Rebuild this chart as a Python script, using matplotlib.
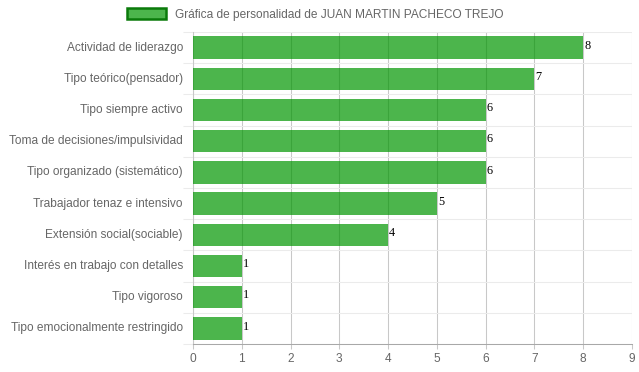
import matplotlib
matplotlib.use("Agg")
import matplotlib.pyplot as plt
import matplotlib.transforms as mtransforms
from matplotlib.patches import Patch

categories = [
    "Actividad de liderazgo",
    "Tipo teórico(pensador)",
    "Tipo siempre activo",
    "Toma de decisiones/impulsividad",
    "Tipo organizado (sistemático)",
    "Trabajador tenaz e intensivo",
    "Extensión social(sociable)",
    "Interés en trabajo con detalles",
    "Tipo vigoroso",
    "Tipo emocionalmente restringido",
]
values = [8, 7, 6, 6, 6, 5, 4, 1, 1, 1]
x_ticks = list(range(0, 10))
legend_label = "Gráfica de personalidad de JUAN MARTIN PACHECO TREJO"

plt.rcParams['font.family'] = ['Liberation Sans', 'DejaVu Sans']

W, H = 639, 372
fig = plt.figure(figsize=(W / 100, H / 100), dpi=100)
ax = fig.add_axes([193 / W, (H - 344) / H, (632 - 193) / W, (344 - 32) / H])

bar_color = (0.0, 150 / 255, 0.0, 0.70)
pos = list(range(len(categories)))
ax.barh(pos, values, height=0.72, color=bar_color, zorder=3, linewidth=0)

for p, v in zip(pos, values):
    ax.text(v + 0.02, p - 0.06, str(v), family='Liberation Serif', fontsize=8.8,
            color='black', va='center', ha='left', zorder=4)

ax.set_xlim(0, 9)
ax.set_ylim(len(categories) - 0.5, -0.5)
ax.set_xticks(x_ticks)
ax.set_yticks(pos)
ax.set_yticklabels(categories)
ax.set_yticks([k - 0.5 for k in range(len(categories) + 1)], minor=True)

ax.tick_params(axis='y', which='major', length=0, pad=7.2, labelsize=8.6, labelcolor='#666666')
offset = mtransforms.ScaledTranslation(0, 1.5 / 100, fig.dpi_scale_trans)
for lab in ax.get_yticklabels():
    lab.set_transform(lab.get_transform() + offset)
ax.tick_params(axis='y', which='minor', length=7.2, width=0.75, color='#ebebeb', direction='out')
ax.tick_params(axis='x', which='major', length=3.5, width=0.75, color='#c8c8c8', pad=3,
               labelsize=8.6, labelcolor='#666666')

ax.grid(axis='x', which='major', color='#c8c8c8', linewidth=0.75, zorder=1)
ax.grid(axis='y', which='minor', color='#ebebeb', linewidth=0.75, zorder=1)
ax.grid(axis='y', which='major', visible=False)

for s in ['top', 'right']:
    ax.spines[s].set_visible(False)
ax.spines['left'].set_color('#c8c8c8')
ax.spines['left'].set_linewidth(0.75)
ax.spines['bottom'].set_color('#a8a8a8')
ax.spines['bottom'].set_linewidth(0.75)

handle = Patch(facecolor=bar_color, edgecolor='#0a7a0a', linewidth=1.8)
fig.legend([handle], [legend_label], loc='center', bbox_to_anchor=(315 / W, (H - 14.5) / H),
           frameon=False, fontsize=8.6, labelcolor='#666666', handlelength=3.3,
           handleheight=1.05, handletextpad=0.75)

fig.savefig("out.png", dpi=100)
